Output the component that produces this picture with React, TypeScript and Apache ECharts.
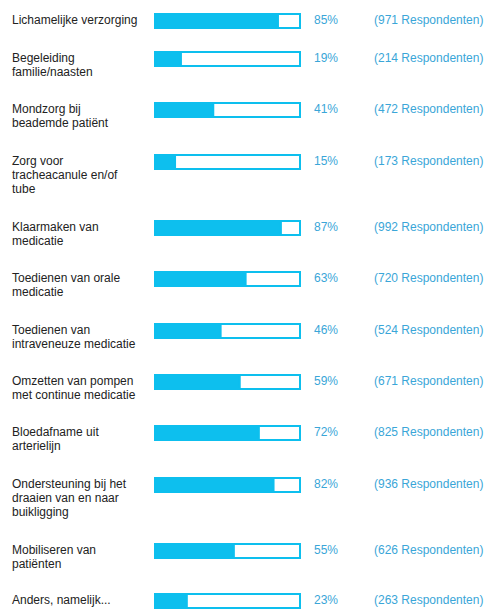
import React, { useEffect, useRef } from "react";
import * as echarts from "echarts";

const categories = [
  "Lichamelijke verzorging",
  "Begeleiding\nfamilie/naasten",
  "Mondzorg bij\nbeademde patiënt",
  "Zorg voor\ntracheacanule en/of\ntube",
  "Klaarmaken van\nmedicatie",
  "Toedienen van orale\nmedicatie",
  "Toedienen van\nintraveneuze medicatie",
  "Omzetten van pompen\nmet continue medicatie",
  "Bloedafname uit\narterielijn",
  "Ondersteuning bij het\ndraaien van en naar\nbuikligging",
  "Mobiliseren van\npatiënten",
  "Anders, namelijk...",
];
const percentages = [85, 19, 41, 15, 87, 63, 46, 59, 72, 82, 55, 23];
const respondents = [971, 214, 472, 173, 992, 720, 524, 671, 825, 936, 626, 263];

const CYAN = "#0dbfee";
const TEXT_CYAN = "#3aa6d8";
const FONT = "'Liberation Sans', Arial, sans-serif";

function rowHeight(lines: number) {
  return lines === 1 ? 38 : lines === 2 ? 51.4 : 66;
}

export default function App() {
  const ref = useRef<HTMLDivElement>(null);
  useEffect(() => {
    if (!ref.current) return;
    const chart = echarts.init(ref.current, undefined, { renderer: "svg" });
    const grids: any[] = [];
    const xAxes: any[] = [];
    const yAxes: any[] = [];
    const series: any[] = [];
    let top = 12;
    categories.forEach((cat, i) => {
      grids.push({ left: 154, width: 147, top: Math.round(top), height: 18 });
      xAxes.push({ gridIndex: i, type: "value", min: 0, max: 100, show: false });
      yAxes.push({ gridIndex: i, type: "category", data: [cat], show: false });
      series.push({
        type: "bar",
        xAxisIndex: i,
        yAxisIndex: i,
        data: [100],
        barWidth: 16,
        barGap: "-100%",
        silent: true,
        itemStyle: { color: "#ffffff", borderColor: CYAN, borderWidth: 2 },
        label: {
          show: true,
          position: "right",
          distance: 13,
          offset: [0, -1],
          formatter: () => `{p|${percentages[i]}%}{r|(${respondents[i]} Respondenten)}`,
          rich: {
            p: { width: 60, fontSize: 12, color: TEXT_CYAN, fontFamily: FONT },
            r: { fontSize: 12, color: TEXT_CYAN, fontFamily: FONT },
          },
        },
      });
      series.push({
        type: "bar",
        xAxisIndex: i,
        yAxisIndex: i,
        data: [percentages[i]],
        barWidth: 16,
        barGap: "-100%",
        silent: true,
        itemStyle: { color: CYAN, borderColor: CYAN, borderWidth: 2 },
        label: {
          show: true,
          position: [-142, 0],
          align: "left",
          verticalAlign: "top",
          formatter: () => cat,
          fontSize: 12,
          lineHeight: 14,
          color: "#222222",
          fontFamily: FONT,
        },
      });
      top += rowHeight(cat.split("\n").length);
    });
    chart.setOption({
      animation: false,
      backgroundColor: "#ffffff",
      grid: grids,
      xAxis: xAxes,
      yAxis: yAxes,
      series,
    });
    return () => chart.dispose();
  }, []);
  return (
    <div
      ref={ref}
      style={{ position: "fixed", left: 0, top: 0, width: 484, height: 609 }}
    />
  );
}
